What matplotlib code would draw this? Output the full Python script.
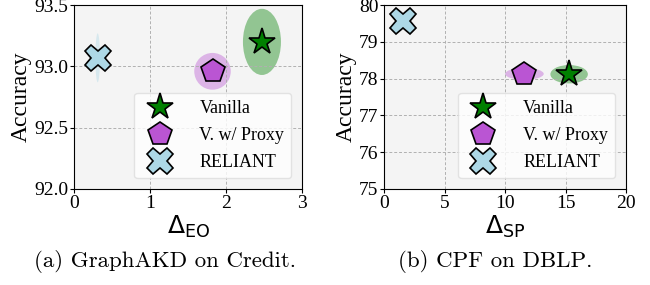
import matplotlib
matplotlib.use('Agg')
import matplotlib.pyplot as plt
from matplotlib.patches import Ellipse

plt.rcParams['font.family'] = 'Liberation Serif'
plt.rcParams['mathtext.fontset'] = 'dejavusans'

methods = ['Vanilla', 'V. w/ Proxy', 'RELIANT']
markers = ['*', 'p', 'X']
sizes = [20, 18, 19]
colors = ['green', 'mediumorchid', 'lightblue']
shade = ['green', 'mediumorchid', 'lightblue']

# (a) GraphAKD on Credit
eo_x = [2.47, 1.82, 0.31]
eo_y = [93.20, 92.96, 93.07]
eo_xerr = [0.25, 0.24, 0.03]
eo_yerr = [0.27, 0.15, 0.20]

# (b) CPF on DBLP
sp_x = [15.3, 11.6, 1.6]
sp_y = [78.12, 78.13, 79.57]
sp_xerr = [1.55, 1.6, 0.3]
sp_yerr = [0.25, 0.16, 0.2]


def panel(ax, xs, ys, xe, ye, xlim, ylim, xticks, yticks, yfmt, xlabel):
    ax.set_facecolor('#f4f4f4')
    for i in range(len(methods)):
        ax.add_patch(Ellipse((xs[i], ys[i]), 2 * xe[i], 2 * ye[i],
                             color=shade[i], alpha=0.4, lw=0, zorder=0.5))
        ax.plot(xs[i], ys[i], marker=markers[i], ms=sizes[i], color=colors[i],
                mec='black', mew=1.2, ls='none', label=methods[i], zorder=3)
    ax.set_xlim(xlim)
    ax.set_ylim(ylim)
    ax.set_xticks(xticks)
    ax.set_yticks(yticks)
    ax.set_yticklabels([yfmt.format(v) for v in yticks])
    ax.tick_params(labelsize=14, length=3, pad=1)
    ax.grid(True, ls=(0, (3, 2)), color='#b0b0b0', lw=0.7)
    ax.set_xlabel(xlabel, fontsize=18, labelpad=2)
    ax.set_ylabel('Accuracy', fontsize=17, labelpad=2)
    ax.legend(loc='lower right', fontsize=13, handletextpad=1.2,
              borderaxespad=0.6, labelspacing=0.55, edgecolor='#dddddd')


fig = plt.figure(figsize=(6.5, 2.85), dpi=100)
ax1 = fig.add_axes([0.114, 0.337, 0.351, 0.645])
ax2 = fig.add_axes([0.591, 0.337, 0.372, 0.645])

panel(ax1, eo_x, eo_y, eo_xerr, eo_yerr, (0, 3), (92.0, 93.5), [0, 1, 2, 3],
      [92.0, 92.5, 93.0, 93.5], '{:.1f}', r'$\Delta_{\rm EO}$')
panel(ax2, sp_x, sp_y, sp_xerr, sp_yerr, (0, 20), (75, 80), [0, 5, 10, 15, 20],
      [75, 76, 77, 78, 79, 80], '{:.0f}', r'$\Delta_{\rm SP}$')

fig.text(0.254, 0.081, '(a) GraphAKD on Credit.', ha='center', va='center',
         fontsize=16.5, fontfamily='cmr10')
fig.text(0.762, 0.081, '(b) CPF on DBLP.', ha='center', va='center',
         fontsize=16.5, fontfamily='cmr10')

fig.savefig('out.png', dpi=100)
